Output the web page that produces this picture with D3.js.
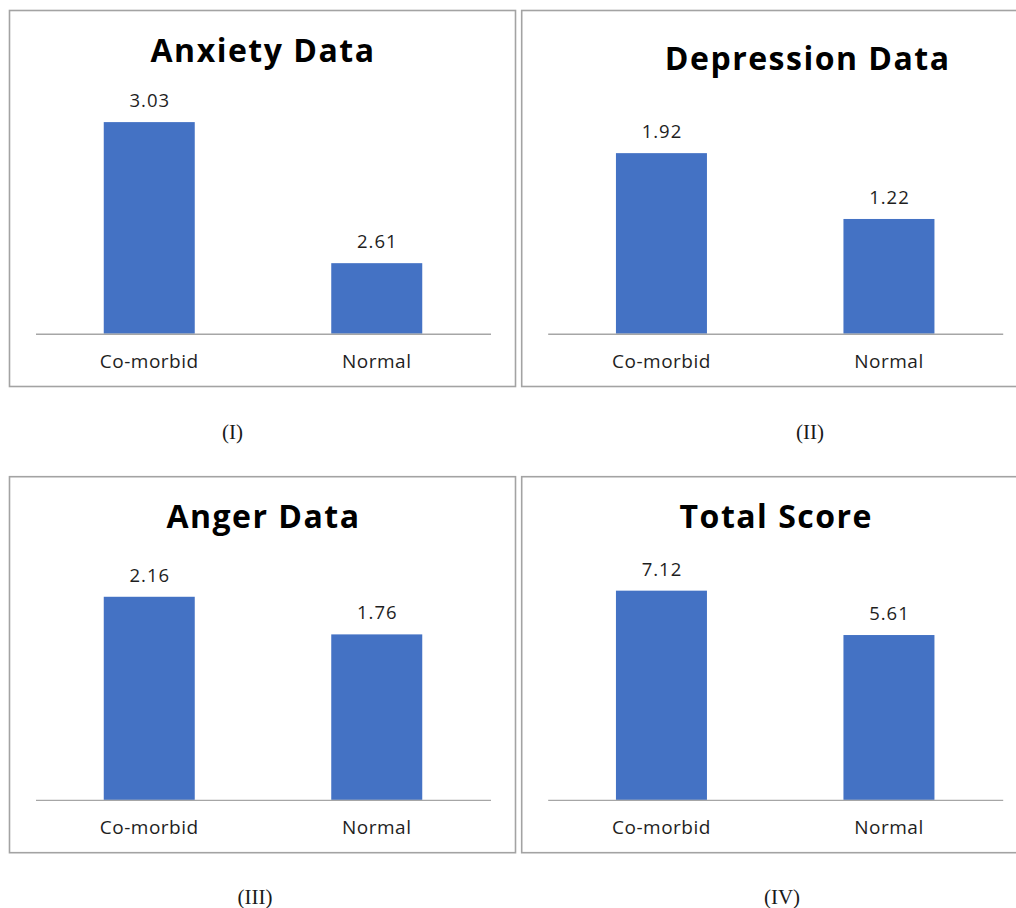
<!DOCTYPE html>
<html>
<head>
<meta charset="utf-8">
<script src="https://cdn.jsdelivr.net/npm/d3@7"></script>
<style>
  html, body { margin: 0; padding: 0; background: #ffffff; }
  svg { display: block; }
</style>
</head>
<body>
<svg id="chart" width="1016" height="908"></svg>
<script>
// Group labels shared by every panel
const categories = ["Co-morbid", "Normal"];

// Mean scores per group
const anxietyValues    = [3.03, 2.61];
const depressionValues = [1.92, 1.22];
const angerValues      = [2.16, 1.76];
const totalValues      = [7.12, 5.61];

// Panel titles, captions and value-axis ranges
const titles   = ["Anxiety Data", "Depression Data", "Anger Data", "Total Score"];
const captions = ["(I)", "(II)", "(III)", "(IV)"];
const anxietyDomain    = [2.4, 3.1];
const depressionDomain = [0, 2.5];
const angerDomain      = [0, 2.5];
const totalDomain      = [0, 8];

const seriesList = [anxietyValues, depressionValues, angerValues, totalValues];
const domainList = [anxietyDomain, depressionDomain, angerDomain, totalDomain];

// Layout of each chart box on the page
const layout = [
  { left: 9.5,   top: 10.5,  titleX: 253.5, titleY: 51.5, capX: 232.5, capY: 439 },
  { left: 521.7, top: 10.5,  titleX: 286,   titleY: 59.5, capX: 810,   capY: 439 },
  { left: 9.5,   top: 476.7, titleX: 254,   titleY: 51.5, capX: 255,   capY: 904 },
  { left: 521.7, top: 476.7, titleX: 254.6, titleY: 51.5, capX: 782,   capY: 904 }
];
const boxW = 506, boxH = 376;
const plotLeft = 26, plotRight = 481, plotTop = 88.1, plotBottom = 323.2;

const barColor = "#4472C4";
const sans = "'Open Sans', Lato, sans-serif";

const svg = d3.select("#chart");

seriesList.forEach((values, i) => {
  const L = layout[i];
  const g = svg.append("g").attr("transform", `translate(${L.left},${L.top})`);

  // chart frame
  g.append("rect")
    .attr("x", 0).attr("y", 0)
    .attr("width", boxW).attr("height", boxH)
    .attr("fill", "#ffffff")
    .attr("stroke", "#a3a3a3")
    .attr("stroke-width", 1.6);

  const x = d3.scaleBand()
    .domain(categories)
    .range([plotLeft, plotRight])
    .paddingInner(0.6)
    .paddingOuter(0.3);

  const y = d3.scaleLinear()
    .domain(domainList[i])
    .range([plotBottom, plotTop]);

  const data = categories.map((c, k) => ({ cat: c, value: values[k] }));

  // bars
  g.selectAll("rect.bar")
    .data(data)
    .join("rect")
    .attr("class", "bar")
    .attr("x", d => x(d.cat))
    .attr("width", x.bandwidth())
    .attr("y", d => y(d.value))
    .attr("height", d => y(domainList[i][0]) - y(d.value))
    .attr("fill", barColor);

  // value labels above bars
  g.selectAll("text.val")
    .data(data)
    .join("text")
    .attr("class", "val")
    .attr("x", d => x(d.cat) + x.bandwidth() / 2 + 0.5)
    .attr("y", d => y(d.value) - 15)
    .attr("text-anchor", "middle")
    .attr("font-family", sans)
    .attr("font-size", 18.5)
    .attr("letter-spacing", 1)
    .attr("fill", "#1e1e1e")
    .text(d => d.value.toFixed(2));

  // category axis along the baseline
  const axis = g.append("g")
    .attr("transform", `translate(0,${plotBottom})`)
    .call(d3.axisBottom(x).tickSize(0).tickPadding(20));
  axis.select(".domain")
    .attr("stroke", "#a6a6a6")
    .attr("stroke-width", 1.4);
  axis.selectAll(".tick text")
    .attr("font-family", sans)
    .attr("font-size", 19)
    .attr("letter-spacing", 0.5)
    .attr("fill", "#1e1e1e")
    .attr("dy", 0)
    .attr("y", 34);

  // title
  g.append("text")
    .attr("x", L.titleX)
    .attr("y", L.titleY)
    .attr("text-anchor", "middle")
    .attr("font-family", sans)
    .attr("font-weight", "bold")
    .attr("font-size", 32)
    .attr("letter-spacing", 1.5)
    .attr("fill", "#000000")
    .text(titles[i]);

  // caption below the frame
  svg.append("text")
    .attr("x", L.capX)
    .attr("y", L.capY)
    .attr("text-anchor", "middle")
    .attr("font-family", "'Liberation Serif', 'DejaVu Serif', serif")
    .attr("font-size", 21)
    .attr("fill", "#1a1a1a")
    .text(captions[i]);
});
</script>
</body>
</html>
